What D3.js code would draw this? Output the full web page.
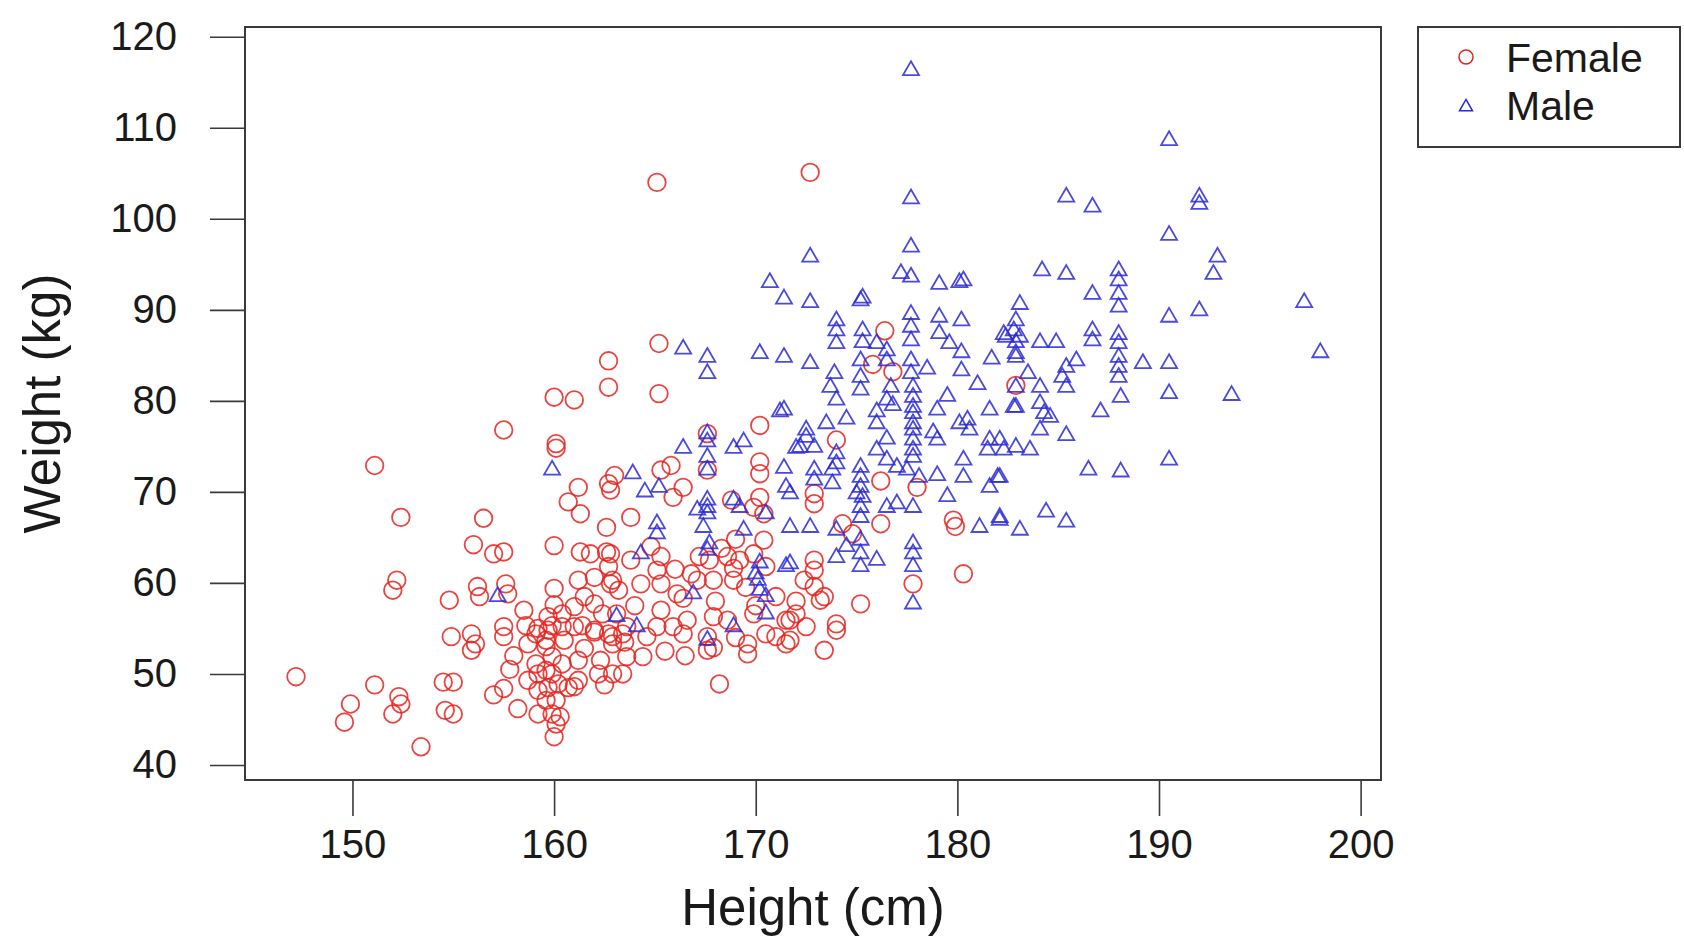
<!DOCTYPE html>
<html>
<head>
<meta charset="utf-8">
<script src="https://cdn.jsdelivr.net/npm/d3@7/dist/d3.min.js"></script>
<style>
  html, body { margin: 0; padding: 0; background: #ffffff; }
  svg { display: block; }
  text { font-family: "Liberation Sans", Arial, Helvetica, sans-serif; fill: #1a1a1a; }
</style>
</head>
<body>
<svg id="chart" width="1684" height="939"></svg>
<script>
// Height (cm) and weight (kg) of each female respondent
const femaleHeight = [
  165.1, 172.7, 151.1, 152.4, 152.2, 152.0, 157.5, 156.5, 156.0, 157.0,
  157.5, 154.8, 156.2, 156.3, 157.6, 157.7, 147.2, 151.1, 149.9, 149.6,
  152.3, 152.4, 152.0, 153.4, 154.5, 155.0, 154.6, 155.0, 157.0, 157.5,
  158.2, 154.9, 155.9, 156.1, 155.9, 157.5, 157.5, 158.6, 159.2, 159.9,
  159.1, 159.7, 160.4, 160.5, 159.6, 159.1, 159.9, 160.4, 159.6, 158.7,
  158.7, 159.2, 159.6, 159.9, 159.2, 159.7, 160.2, 160.7, 159.6, 160.1,
  159.2, 159.9, 160.1, 160.0, 161.0, 161.2, 161.2, 162.2, 162.9, 161.4,
  162.0, 162.7, 162.9, 163.4, 160.0, 161.2, 162.9, 162.7, 160.0, 161.0,
  160.1, 160.1, 161.2, 160.7, 161.3, 162.7, 163.0, 162.6, 160.0, 161.3,
  162.6, 165.2, 170.2, 170.2, 170.2, 162.8, 163.8, 165.3, 165.8, 166.4,
  165.9, 168.8, 169.9, 170.2, 170.4, 161.8, 162.8, 162.7, 165.3, 165.1,
  167.2, 167.7, 168.6, 169.2, 169.9, 170.4, 170.5, 162.8, 164.3, 165.3,
  166.1, 167.1, 167.9, 168.9, 168.9, 161.0, 162.0, 162.4, 163.1, 161.0,
  162.0, 162.9, 163.6, 165.3, 165.1, 164.6, 165.9, 166.6, 167.9, 168.6,
  169.9, 166.4, 167.6, 167.9, 169.6, 170.5, 171.0, 171.7, 171.7, 160.3,
  162.3, 163.6, 164.4, 163.4, 168.2, 167.6, 169.6, 174.0, 172.9, 172.9,
  178.0, 176.2, 179.8, 179.9, 174.3, 174.8, 172.9, 180.3, 172.9, 172.9,
  173.2, 175.2, 177.8, 171.5, 172.0, 172.5, 174.0, 174.0, 171.5, 173.4,
  176.4, 165.2, 162.7, 175.8, 176.8, 182.9, 176.2, 167.6, 167.6, 173.4,
  172.4, 162.0, 163.2, 166.4, 160.0, 160.4, 159.7, 166.8, 168.3, 169.0,
  168.0, 169.5, 164.0, 166.0, 163.8, 164.8, 163.5, 165.5, 166.5, 170.0,
  171.0, 172.0, 169.0, 161.5, 158.5, 158.0, 161.5, 162.5, 157.8
];
const femaleWeight = [
  104.0, 105.1, 72.9, 67.2, 60.3, 59.2, 76.8, 67.1, 64.2, 63.2,
  63.4, 58.1, 59.6, 58.5, 59.9, 58.8, 49.7, 48.8, 46.7, 44.7,
  47.5, 46.7, 45.6, 42.0, 49.1, 49.1, 46.0, 45.6, 47.7, 48.4,
  46.2, 54.1, 54.4, 53.3, 52.6, 55.2, 54.1, 55.3, 55.0, 55.3,
  54.4, 54.8, 55.2, 53.7, 53.7, 51.1, 51.9, 51.1, 53.0, 53.3,
  49.3, 50.0, 50.4, 50.0, 48.2, 48.5, 48.9, 48.5, 47.1, 47.1,
  45.6, 45.6, 44.5, 43.1, 48.6, 49.3, 51.5, 50.0, 50.0, 55.3,
  54.6, 54.4, 53.3, 54.4, 59.4, 60.3, 60.3, 81.5, 80.4, 80.1,
  75.3, 74.8, 70.5, 68.9, 67.6, 70.9, 71.8, 66.1, 64.1, 63.4,
  63.4, 80.8, 77.3, 73.3, 72.0, 70.2, 67.2, 72.4, 72.9, 70.5,
  69.4, 69.1, 68.3, 69.4, 67.6, 63.2, 63.2, 61.8, 62.9, 61.4,
  62.9, 62.5, 62.9, 62.5, 63.2, 64.7, 61.8, 59.9, 59.9, 59.9,
  58.8, 60.3, 60.3, 60.3, 61.6, 57.4, 57.7, 56.6, 56.6, 55.2,
  54.8, 54.1, 55.2, 57.0, 55.2, 54.1, 55.2, 55.9, 56.3, 55.9,
  56.6, 54.4, 54.1, 52.9, 53.3, 54.4, 54.1, 55.9, 53.7, 45.3,
  51.5, 51.9, 51.9, 50.0, 48.9, 52.6, 52.2, 75.7, 69.8, 68.7,
  70.5, 66.5, 66.9, 66.2, 66.5, 65.4, 62.5, 61.0, 61.4, 59.6,
  58.1, 57.7, 59.9, 55.9, 56.6, 55.2, 55.5, 54.8, 53.3, 52.6,
  87.7, 86.3, 84.4, 84.0, 83.2, 81.7, 71.2, 76.4, 72.4, 58.5,
  60.3, 60.6, 59.2, 58.3, 57.6, 56.6, 56.3, 61.0, 63.8, 64.8,
  58.0, 59.5, 57.5, 61.5, 62.5, 64.0, 53.5, 52.5, 52.0, 57.5,
  58.5, 58.0, 54.0, 58.5, 57.0, 52.0, 52.8, 48.8, 50.5
];

// Height (cm) and weight (kg) of each male respondent
const maleHeight = [
  177.7, 190.5, 177.7, 185.4, 186.7, 192.0, 192.0, 190.5, 177.7, 172.7,
  192.9, 192.7, 177.2, 177.7, 179.1, 180.1, 180.3, 170.7, 171.4, 172.7,
  175.2, 175.3, 184.2, 185.4, 188.0, 188.0, 188.0, 188.0, 186.7, 197.2,
  183.1, 182.9, 182.8, 182.3, 183.1, 190.5, 192.0, 184.1, 184.9, 186.7,
  186.7, 188.0, 188.0, 188.0, 188.0, 188.0, 198.0, 189.2, 190.5, 182.9,
  185.4, 185.9, 185.2, 174.0, 174.0, 174.0, 175.3, 175.3, 177.7, 177.7,
  177.7, 179.1, 179.1, 180.2, 179.6, 180.2, 181.7, 182.4, 182.9, 182.9,
  166.4, 167.6, 167.6, 170.2, 171.4, 172.7, 173.9, 175.2, 175.2, 176.0,
  176.5, 176.5, 177.7, 177.7, 180.2, 182.9, 184.1, 185.4, 188.1, 190.5,
  193.6, 182.9, 184.1, 184.3, 184.6, 187.1, 184.1, 185.4, 182.1, 182.3,
  182.9, 183.6, 182.1, 186.5, 188.1, 190.5, 182.1, 183.1, 184.4, 185.4,
  171.2, 166.4, 167.6, 167.6, 167.6, 167.6, 168.9, 169.4, 172.0, 171.4,
  171.7, 171.7, 163.9, 164.5, 165.2, 167.6, 167.6, 167.1, 167.6, 167.4,
  168.9, 169.2, 170.5, 165.1, 165.1, 169.4, 167.7, 167.6, 164.3, 170.2,
  170.0, 171.5, 170.1, 170.2, 170.5, 170.5, 163.1, 164.1, 166.9, 167.6,
  168.9, 173.7, 174.0, 175.2, 176.7, 176.5, 171.4, 176.0, 176.0, 177.8,
  177.8, 177.8, 177.8, 177.8, 177.8, 177.8, 177.8, 177.8, 179.0, 180.5,
  180.1, 180.6, 181.6, 182.8, 179.0, 181.6, 181.5, 172.5, 172.5, 172.2,
  172.9, 174.0, 174.0, 173.8, 171.5, 172.9, 172.9, 173.8, 175.2, 175.2,
  175.2, 175.0, 175.3, 176.0, 176.5, 177.0, 177.5, 178.1, 179.0, 180.3,
  180.3, 182.0, 181.6, 175.2, 175.2, 176.5, 177.0, 177.8, 172.7, 174.0,
  174.5, 175.2, 175.2, 177.8, 177.8, 177.8, 181.1, 182.1, 171.7, 175.2,
  177.8, 159.9, 157.2, 176.8, 178.8, 179.5, 176.5, 178.5, 174.5, 173.5,
  181.0, 183.5, 179.5, 176.0, 174.0
];
const maleWeight = [
  116.3, 108.6, 102.2, 102.4, 101.3, 102.4, 101.6, 98.2, 96.9, 95.8,
  95.8, 93.9, 94.0, 93.6, 92.8, 93.0, 93.2, 93.0, 91.2, 90.8,
  91.0, 91.3, 94.3, 93.9, 94.3, 93.2, 91.7, 90.3, 91.7, 90.8,
  90.6, 88.8, 87.7, 87.3, 87.0, 89.2, 89.9, 86.4, 86.4, 87.7,
  86.6, 87.3, 86.3, 84.8, 83.7, 82.6, 85.3, 84.1, 84.1, 85.2,
  83.7, 84.4, 82.6, 88.8, 87.7, 86.3, 87.7, 86.4, 89.5, 88.1,
  86.6, 89.2, 87.4, 88.8, 86.3, 85.3, 84.6, 87.0, 86.4, 84.8,
  85.7, 84.8, 83.0, 85.2, 84.8, 84.1, 83.0, 84.4, 82.6, 86.3,
  85.5, 84.4, 84.4, 83.0, 83.3, 81.5, 81.5, 81.5, 80.4, 80.8,
  80.6, 79.3, 79.7, 78.6, 78.2, 78.8, 76.8, 76.2, 75.7, 74.6,
  74.9, 74.6, 71.6, 72.4, 72.2, 73.5, 66.9, 65.8, 67.8, 66.7,
  78.8, 74.8, 76.4, 75.5, 73.8, 72.4, 74.8, 75.5, 74.8, 72.6,
  69.8, 66.1, 72.0, 70.0, 70.5, 69.1, 68.3, 68.0, 67.6, 66.1,
  69.1, 68.3, 67.6, 66.5, 65.4, 65.8, 64.3, 63.6, 63.2, 62.2,
  61.0, 61.8, 60.3, 59.2, 58.5, 56.6, 56.3, 55.2, 58.8, 53.7,
  55.2, 81.5, 80.1, 81.2, 81.5, 80.1, 79.0, 78.8, 77.5, 81.5,
  80.4, 79.3, 78.6, 77.5, 76.8, 75.7, 74.6, 73.8, 79.0, 77.9,
  77.5, 76.8, 79.0, 79.3, 75.7, 75.7, 74.6, 76.8, 76.0, 74.9,
  74.9, 74.2, 73.1, 72.4, 70.5, 72.4, 71.3, 70.9, 72.7, 71.6,
  70.5, 69.8, 69.4, 74.6, 73.5, 72.7, 72.4, 71.6, 71.8, 73.5,
  71.6, 71.6, 70.5, 68.3, 67.2, 68.3, 68.7, 68.3, 66.1, 65.8,
  64.0, 64.7, 63.2, 64.3, 63.2, 61.8, 66.1, 67.2, 62.1, 61.8,
  57.7, 72.4, 58.5, 79.5, 76.5, 80.5, 75.8, 83.5, 78.0, 77.5,
  81.8, 83.0, 69.5, 62.5, 62.8
];

// Axis ticks and legend entries
const xTicks = [150, 160, 170, 180, 190, 200];
const yTicks = [40, 50, 60, 70, 80, 90, 100, 110, 120];
const legendLabels = ["Female", "Male"];

const svg = d3.select("#chart");

// Plot region (frame) and scales
const frame = { left: 245, right: 1381, top: 27, bottom: 780 };
const x = d3.scaleLinear().domain([144.67, 201.01]).range([frame.left, frame.right]);
const y = d3.scaleLinear().domain([38.35, 121.07]).range([frame.bottom, frame.top]);

const femaleColor = "#e5231f";
const maleColor = "#2a2ad6";
const axisColor = "#3a3a3a";

// Triangle marker path (pch = 2 style), centred on the point
function trianglePath(side) {
  const h = side * Math.sqrt(3) / 2;
  return `M0,${-h * 2 / 3}L${side / 2},${h / 3}L${-side / 2},${h / 3}Z`;
}

// Females: open circles
const females = femaleHeight.map((h, i) => ({ h, w: femaleWeight[i] }));
svg.append("g")
  .selectAll("circle")
  .data(females)
  .join("circle")
  .attr("cx", d => x(d.h))
  .attr("cy", d => y(d.w))
  .attr("r", 8.8)
  .attr("fill", "none")
  .attr("stroke", femaleColor)
  .attr("stroke-opacity", 0.85)
  .attr("stroke-width", 1.8);

// Males: open triangles
const males = maleHeight.map((h, i) => ({ h, w: maleWeight[i] }));
svg.append("g")
  .selectAll("path")
  .data(males)
  .join("path")
  .attr("transform", d => `translate(${x(d.h)},${y(d.w)})`)
  .attr("d", trianglePath(16))
  .attr("fill", "none")
  .attr("stroke", maleColor)
  .attr("stroke-opacity", 0.85)
  .attr("stroke-width", 1.8);

// Frame around the plot region
svg.append("rect")
  .attr("x", frame.left)
  .attr("y", frame.top)
  .attr("width", frame.right - frame.left)
  .attr("height", frame.bottom - frame.top)
  .attr("fill", "none")
  .attr("stroke", axisColor)
  .attr("stroke-width", 2);

// Bottom axis
const xAxis = svg.append("g")
  .attr("transform", `translate(0,${frame.bottom})`)
  .call(d3.axisBottom(x).tickValues(xTicks).tickSize(36).tickPadding(14).tickSizeOuter(0));
xAxis.select(".domain")
  .attr("d", `M${x(xTicks[0])},0H${x(xTicks[xTicks.length - 1])}`)
  .attr("stroke", axisColor).attr("stroke-width", 2);
xAxis.selectAll(".tick line").attr("stroke", axisColor).attr("stroke-width", 1.6);
xAxis.selectAll(".tick text")
  .attr("font-size", 40)
  .attr("fill", "#1a1a1a")
  .attr("font-family", '"Liberation Sans", Arial, sans-serif');

// Left axis
const yAxis = svg.append("g")
  .attr("transform", `translate(${frame.left},0)`)
  .call(d3.axisLeft(y).tickValues(yTicks).tickSize(35).tickPadding(33).tickSizeOuter(0));
yAxis.select(".domain")
  .attr("d", `M0,${y(yTicks[0])}V${y(yTicks[yTicks.length - 1])}`)
  .attr("stroke", axisColor).attr("stroke-width", 2);
yAxis.selectAll(".tick line").attr("stroke", axisColor).attr("stroke-width", 1.6);
yAxis.selectAll(".tick text")
  .attr("font-size", 40)
  .attr("fill", "#1a1a1a")
  .attr("font-family", '"Liberation Sans", Arial, sans-serif');

// Axis titles
svg.append("text")
  .attr("x", (frame.left + frame.right) / 2)
  .attr("y", 925)
  .attr("text-anchor", "middle")
  .attr("font-size", 51)
  .text("Height (cm)");

svg.append("text")
  .attr("transform", `translate(60,${(frame.top + frame.bottom) / 2}) rotate(-90)`)
  .attr("text-anchor", "middle")
  .attr("font-size", 51)
  .text("Weight (kg)");

// Legend
const legend = svg.append("g");
legend.append("rect")
  .attr("x", 1418)
  .attr("y", 27)
  .attr("width", 262)
  .attr("height", 120)
  .attr("fill", "#ffffff")
  .attr("stroke", axisColor)
  .attr("stroke-width", 2);

const legendRows = [57, 105];
legend.append("circle")
  .attr("cx", 1466).attr("cy", legendRows[0]).attr("r", 7)
  .attr("fill", "none").attr("stroke", femaleColor).attr("stroke-width", 1.5);
legend.append("path")
  .attr("transform", `translate(1466,${legendRows[1] + 2})`)
  .attr("d", trianglePath(13))
  .attr("fill", "none").attr("stroke", maleColor).attr("stroke-width", 1.5);

legend.selectAll("text.lbl")
  .data(legendLabels)
  .join("text")
  .attr("class", "lbl")
  .attr("x", 1506)
  .attr("y", (d, i) => legendRows[i])
  .attr("dy", "0.36em")
  .attr("font-size", 41)
  .text(d => d);
</script>
</body>
</html>
